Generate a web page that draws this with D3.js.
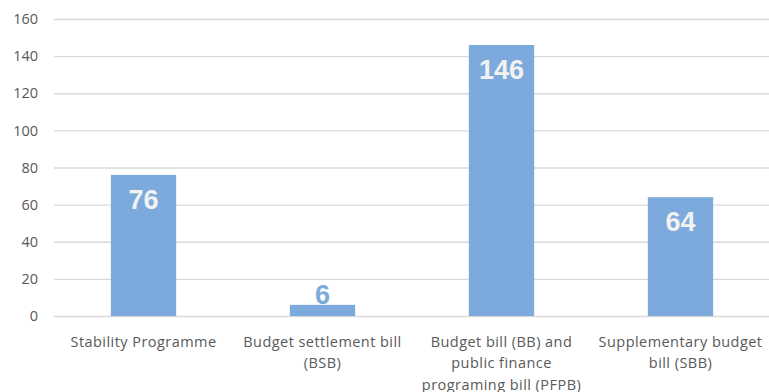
<!DOCTYPE html>
<html>
<head>
<meta charset="utf-8">
<script src="https://cdn.jsdelivr.net/npm/d3@7"></script>
<style>
  html, body { margin: 0; padding: 0; background: #fff; }
  svg { display: block; }
</style>
</head>
<body>
<svg id="chart" width="769" height="392"></svg>
<script>
// Category labels (split over lines as they wrap under each bar)
const categories = [
  ["Stability Programme"],
  ["Budget settlement bill", "(BSB)"],
  ["Budget bill (BB) and", "public finance", "programing bill (PFPB)"],
  ["Supplementary budget", "bill (SBB)"]
];
const values = [76, 6, 146, 64];
const yTicks = [0, 20, 40, 60, 80, 100, 120, 140, 160];

const svg = d3.select("#chart");
const margin = { left: 54, right: 0, top: 19, bottom: 76 };
const W = 769, H = 392;
const textFont = "'Open Sans', Lato, sans-serif";

const x = d3.scaleBand()
  .domain(d3.range(categories.length))
  .range([margin.left, margin.left + 179 * 4])
  .paddingInner(0.635)
  .paddingOuter(0.3175);

const y = d3.scaleLinear().domain([0, 160]).range([H - margin.bottom, margin.top]);

// Gridlines and y tick labels
const yAxis = d3.axisLeft(y).tickValues(yTicks).tickSize(-(W - margin.left)).tickPadding(16);
const gy = svg.append("g").attr("transform", `translate(${margin.left},0)`).call(yAxis);
gy.select(".domain").remove();
gy.selectAll(".tick line").attr("stroke", "#d9d9d9").attr("stroke-width", 1.3);
gy.selectAll(".tick text")
  .attr("fill", "#595959")
  .attr("font-family", textFont)
  .attr("font-size", 14.5);

// Bars
svg.append("g").selectAll("rect")
  .data(values)
  .join("rect")
  .attr("x", (d, i) => x(i))
  .attr("width", x.bandwidth())
  .attr("y", d => y(d))
  .attr("height", d => y(0) - y(d))
  .attr("fill", "#7caadc");

// Value labels: inside the top of the bar, or above it when the bar is too short
svg.append("g").selectAll("text")
  .data(values)
  .join("text")
  .attr("x", (d, i) => x(i) + x.bandwidth() / 2)
  .attr("y", d => (y(0) - y(d) > 40 ? y(d) + 34 : y(d) - 1))
  .attr("text-anchor", "middle")
  .attr("font-family", "'Liberation Sans', Arial, sans-serif")
  .attr("font-weight", "bold")
  .attr("font-size", 27)
  .attr("fill", d => (y(0) - y(d) > 40 ? "#f2f2f2" : "#7caadc"))
  .text(d => d);

// Category labels under the axis
const cat = svg.append("g").selectAll("text")
  .data(categories)
  .join("text")
  .attr("x", (d, i) => x(i) + x.bandwidth() / 2)
  .attr("y", 346.5)
  .attr("text-anchor", "middle")
  .attr("fill", "#595959")
  .attr("font-family", textFont)
  .attr("font-size", 14.5)
  .attr("letter-spacing", 0.45);
cat.selectAll("tspan")
  .data(d => d)
  .join("tspan")
  .attr("x", function () { return d3.select(this.parentNode).attr("x"); })
  .attr("dy", (d, i) => (i === 0 ? 0 : 21.5))
  .text(d => d);
</script>
</body>
</html>
